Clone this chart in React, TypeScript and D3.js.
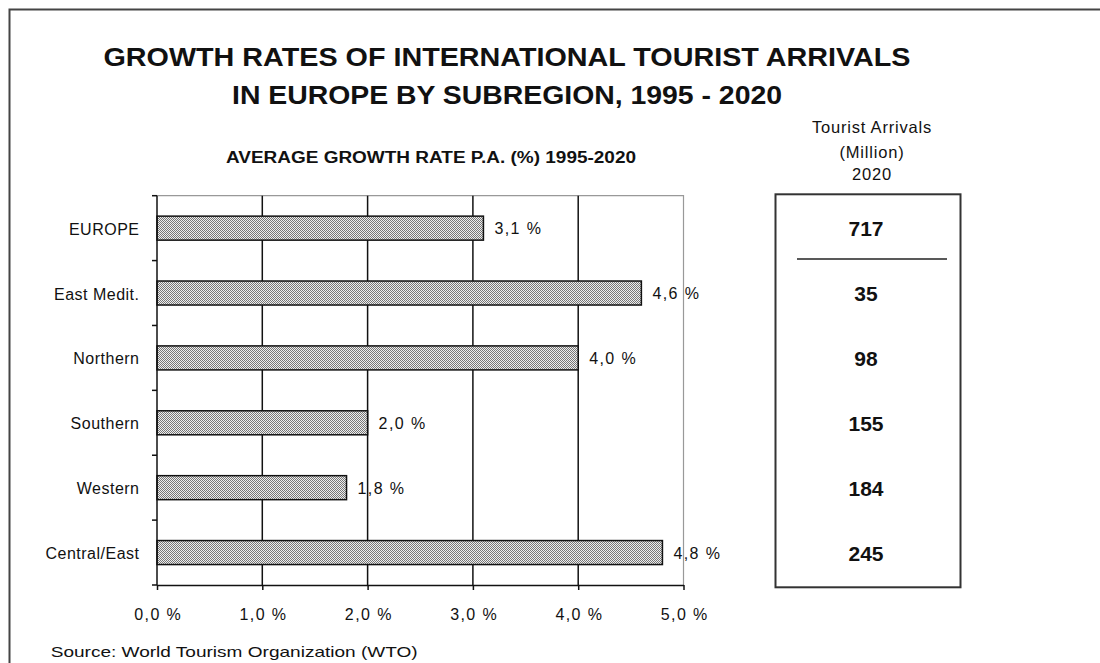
import React, { useEffect, useRef } from 'react'
import * as d3 from 'd3'

const regions = ['EUROPE', 'East Medit.', 'Northern', 'Southern', 'Western', 'Central/East']
const growthRates = [3.1, 4.6, 4.0, 2.0, 1.8, 4.8]
const growthLabels = ['3,1 %', '4,6 %', '4,0 %', '2,0 %', '1,8 %', '4,8 %']
const arrivals2020 = [717, 35, 98, 155, 184, 245]
const xTicks = [0, 1, 2, 3, 4, 5]
const xTickLabels = ['0,0 %', '1,0 %', '2,0 %', '3,0 %', '4,0 %', '5,0 %']

const titleLines = [
  'GROWTH RATES OF INTERNATIONAL TOURIST ARRIVALS',
  'IN EUROPE BY SUBREGION, 1995 - 2020',
]
const subtitle = 'AVERAGE GROWTH RATE P.A. (%) 1995-2020'
const boxHeader = ['Tourist Arrivals', '(Million)', '2020']
const source = 'Source: World Tourism Organization (WTO)'

const W = 1100
const H = 663
const FONT = '"Liberation Sans", Arial, sans-serif'

const App = () => {
  const ref = useRef<SVGSVGElement>(null)

  useEffect(() => {
    const svg = d3.select(ref.current)
    svg.selectAll('*').remove()

    const plot = { left: 157, right: 683.5, top: 195.7, bottom: 585 }

    const x = d3.scaleLinear().domain([0, 5]).range([plot.left, plot.right])
    const y = d3
      .scaleBand()
      .domain(regions)
      .range([plot.top, plot.bottom])
      .paddingInner(0.63)
      .paddingOuter(0.315)
    const step = y.step()
    const half = y.bandwidth() / 2

    // stipple fill for the bars
    const defs = svg.append('defs')
    const pat = defs
      .append('pattern')
      .attr('id', 'stip')
      .attr('patternUnits', 'userSpaceOnUse')
      .attr('width', 2)
      .attr('height', 2)
    pat.append('rect').attr('width', 2).attr('height', 2).attr('fill', '#eeeeee')
    pat.append('rect').attr('x', 0).attr('y', 0).attr('width', 1).attr('height', 1).attr('fill', '#777')
    pat.append('rect').attr('x', 1).attr('y', 1).attr('width', 1).attr('height', 1).attr('fill', '#777')

    svg.append('rect').attr('width', W).attr('height', H).attr('fill', '#fff')

    // outer frame, running off the right and bottom edges
    svg
      .append('rect')
      .attr('x', 9.5)
      .attr('y', 9.5)
      .attr('width', W + 50)
      .attr('height', H + 50)
      .attr('fill', 'none')
      .attr('stroke', '#444')
      .attr('stroke-width', 2)

    // titles
    svg
      .selectAll('.title')
      .data(titleLines)
      .join('text')
      .attr('x', 507)
      .attr('y', (d, i) => 66 + i * 38)
      .attr('text-anchor', 'middle')
      .attr('font-family', FONT)
      .attr('font-size', 25)
      .attr('font-weight', 'bold')
      .attr('textLength', (d, i) => (i === 0 ? 807 : 550))
      .attr('lengthAdjust', 'spacingAndGlyphs')
      .attr('fill', '#111')
      .text((d) => d)

    svg
      .append('text')
      .attr('x', 431)
      .attr('y', 163.3)
      .attr('text-anchor', 'middle')
      .attr('font-family', FONT)
      .attr('font-size', 16)
      .attr('font-weight', 'bold')
      .attr('textLength', 410)
      .attr('lengthAdjust', 'spacingAndGlyphs')
      .attr('fill', '#111')
      .text(subtitle)

    // plot frame (light top and right)
    svg
      .append('path')
      .attr('d', `M${plot.left},${plot.top}H${plot.right}V${plot.bottom}`)
      .attr('fill', 'none')
      .attr('stroke', '#999')
      .attr('stroke-width', 1.2)

    // vertical gridlines
    svg
      .selectAll('.grid')
      .data(xTicks.filter((t) => t > 0 && t < 5))
      .join('line')
      .attr('x1', (d) => x(d))
      .attr('x2', (d) => x(d))
      .attr('y1', plot.top)
      .attr('y2', plot.bottom)
      .attr('stroke', '#111')
      .attr('stroke-width', 1.5)

    // bars
    svg
      .selectAll('.bar')
      .data(regions)
      .join('rect')
      .attr('x', x(0))
      .attr('y', (d) => y(d)!)
      .attr('width', (d, i) => x(growthRates[i]) - x(0))
      .attr('height', y.bandwidth())
      .attr('fill', 'url(#stip)')
      .attr('stroke', '#111')
      .attr('stroke-width', 1.5)

    // bar value labels
    svg
      .selectAll('.val')
      .data(regions)
      .join('text')
      .attr('x', (d, i) => x(growthRates[i]) + 11)
      .attr('y', (d) => y(d)! + half + 6)
      .attr('font-family', FONT)
      .attr('font-size', 16)
      .attr('letter-spacing', 1.4)
      .attr('fill', '#111')
      .text((d, i) => growthLabels[i])

    // left axis with ticks at band boundaries
    svg
      .append('line')
      .attr('x1', plot.left)
      .attr('x2', plot.left)
      .attr('y1', plot.top)
      .attr('y2', plot.bottom)
      .attr('stroke', '#111')
      .attr('stroke-width', 1.5)
    const bounds = d3.range(regions.length + 1).map((i) => plot.top + i * step)
    svg
      .selectAll('.ytick')
      .data(bounds)
      .join('line')
      .attr('x1', plot.left - 5)
      .attr('x2', plot.left)
      .attr('y1', (d) => d)
      .attr('y2', (d) => d)
      .attr('stroke', '#111')
      .attr('stroke-width', 1.5)

    svg
      .selectAll('.cat')
      .data(regions)
      .join('text')
      .attr('x', 139.5)
      .attr('y', (d) => y(d)! + half + 6.5)
      .attr('text-anchor', 'end')
      .attr('font-family', FONT)
      .attr('font-size', 16)
      .attr('letter-spacing', 0.5)
      .attr('fill', '#111')
      .text((d) => d)

    // bottom axis
    const axis = d3
      .axisBottom(x)
      .tickValues(xTicks)
      .tickSize(5)
      .tickSizeOuter(0)
      .tickPadding(19)
      .tickFormat((d, i) => xTickLabels[i])
    const gx = svg.append('g').attr('transform', `translate(0,${plot.bottom})`).call(axis)
    gx.select('.domain').attr('stroke', '#111').attr('stroke-width', 1.5)
    gx.selectAll('.tick line').attr('stroke', '#111').attr('stroke-width', 1.5)
    gx.selectAll('.tick text')
      .attr('font-family', FONT)
      .attr('font-size', 16)
      .attr('letter-spacing', 1.4)
      .attr('dx', 0.7)
      .attr('fill', '#111')

    svg
      .append('text')
      .attr('x', 50.7)
      .attr('y', 656.7)
      .attr('font-family', FONT)
      .attr('font-size', 15)
      .attr('textLength', 367)
      .attr('lengthAdjust', 'spacingAndGlyphs')
      .attr('fill', '#111')
      .text(source)

    // arrivals box
    const box = { left: 775.5, right: 960.5, top: 194.3, bottom: 587.3 }
    const cx = (box.left + box.right) / 2
    svg
      .selectAll('.hdr')
      .data(boxHeader)
      .join('text')
      .attr('x', 872)
      .attr('y', (d, i) => [133.3, 157.5, 180][i])
      .attr('text-anchor', 'middle')
      .attr('font-family', FONT)
      .attr('font-size', 16.5)
      .attr('letter-spacing', 0.8)
      .attr('fill', '#111')
      .text((d) => d)

    svg
      .append('rect')
      .attr('x', box.left)
      .attr('y', box.top)
      .attr('width', box.right - box.left)
      .attr('height', box.bottom - box.top)
      .attr('fill', 'none')
      .attr('stroke', '#333')
      .attr('stroke-width', 2)

    svg
      .append('line')
      .attr('x1', 797)
      .attr('x2', 947)
      .attr('y1', plot.top + step - 1.5)
      .attr('y2', plot.top + step - 1.5)
      .attr('stroke', '#222')
      .attr('stroke-width', 1.5)

    svg
      .selectAll('.arr')
      .data(regions)
      .join('text')
      .attr('x', cx - 2)
      .attr('y', (d) => y(d)! + half + 8)
      .attr('text-anchor', 'middle')
      .attr('font-family', FONT)
      .attr('font-size', 21)
      .attr('font-weight', 'bold')
      .attr('fill', '#111')
      .text((d, i) => String(arrivals2020[i]))
  }, [])

  return (
    <div style={{ position: 'absolute', left: 0, top: 0, width: W, height: H, overflow: 'hidden' }}>
      <svg ref={ref} width={W} height={H} style={{ display: 'block' }} />
    </div>
  )
}

export default App
